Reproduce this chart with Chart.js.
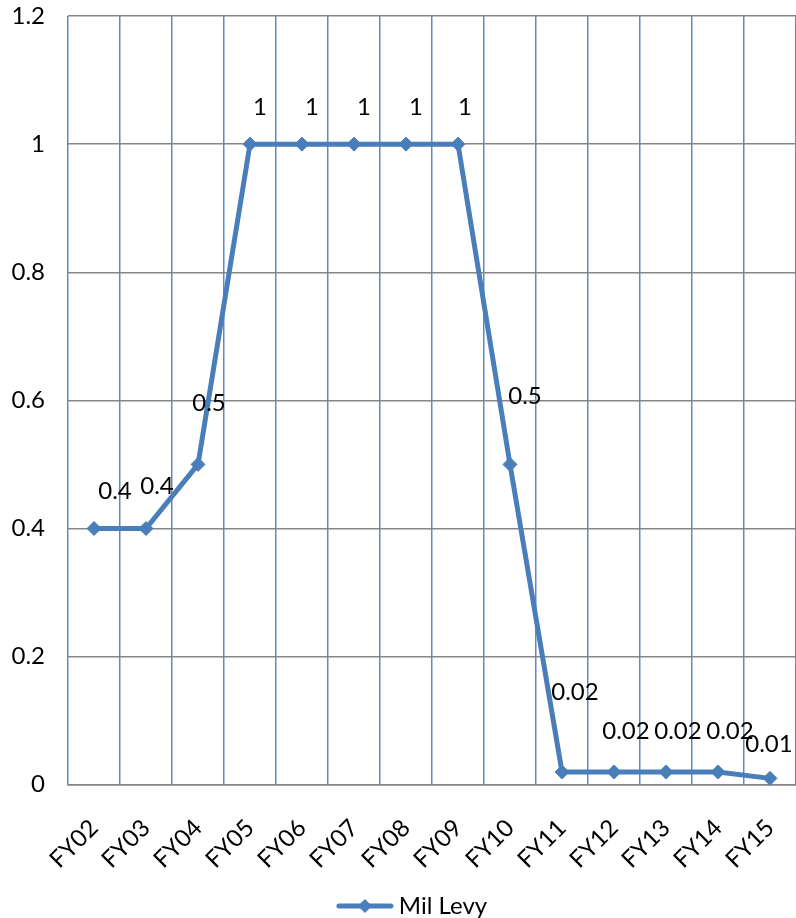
<!DOCTYPE html>
<html>
<head>
<meta charset="utf-8">
<script src="https://cdn.jsdelivr.net/npm/chart.js@4"></script>
<style>
  html, body { margin: 0; padding: 0; background: #fff; }
  #wrap { width: 796px; height: 918px; }
</style>
</head>
<body>
<div id="wrap"><canvas id="levyChart"></canvas></div>
<script>
// data
const years = ['FY02', 'FY03', 'FY04', 'FY05', 'FY06', 'FY07', 'FY08', 'FY09', 'FY10', 'FY11', 'FY12', 'FY13', 'FY14', 'FY15'];
const milLevy = [0.4, 0.4, 0.5, 1, 1, 1, 1, 1, 0.5, 0.02, 0.02, 0.02, 0.02, 0.01];
const valueLabels = ['0.4', '0.4', '0.5', '1', '1', '1', '1', '1', '0.5', '0.02', '0.02', '0.02', '0.02', '0.01'];
const yTicks = [0, 0.2, 0.4, 0.6, 0.8, 1, 1.2];

// label nudges (px) so the value text sits where the original put it
const labelNudge = [[21, -37], [11, -42], [11, -61], [10, -37], [10, -37], [10, -37], [10, -37], [7, -37],
  [15, -68], [13, -80], [12, -41], [12, -41], [12, -41], [-1, -34]];

const BLUE = '#4a7ebb';
const FONT = 'Lato, "Open Sans", sans-serif';
const FSIZE = 24;

// legend sample: line with a diamond in the middle
function legendMarker() {
  const c = document.createElement('canvas');
  c.width = 58; c.height = 16;
  const g = c.getContext('2d');
  g.strokeStyle = BLUE; g.lineWidth = 5; g.lineCap = 'round';
  g.beginPath(); g.moveTo(3, 8); g.lineTo(55, 8); g.stroke();
  g.fillStyle = BLUE;
  g.beginPath(); g.moveTo(29, 1); g.lineTo(36, 8); g.lineTo(29, 15); g.lineTo(22, 8); g.closePath(); g.fill();
  return c;
}

const valueLabelPlugin = {
  id: 'valueLabels',
  afterDatasetsDraw(chart) {
    const ctx = chart.ctx;
    const meta = chart.getDatasetMeta(0);
    ctx.save();
    ctx.font = FSIZE + 'px ' + FONT;
    ctx.fillStyle = '#000';
    ctx.textAlign = 'center';
    ctx.textBaseline = 'middle';
    meta.data.forEach((pt, i) => {
      ctx.fillText(valueLabels[i], pt.x + labelNudge[i][0], pt.y + labelNudge[i][1]);
    });
    ctx.restore();
  }
};

// nudge the legend a bit lower and to the right, like the original
const legendShift = {
  id: 'legendShift',
  afterLayout(chart) {
    const lg = chart.legend;
    lg.top += 10; lg.bottom += 10;
    lg.left += 17; lg.right += 17;
  }
};

const ctx = document.getElementById('levyChart').getContext('2d');
new Chart(ctx, {
  type: 'line',
  data: {
    labels: years,
    datasets: [{
      label: 'Mil Levy',
      data: milLevy,
      borderColor: BLUE,
      backgroundColor: BLUE,
      borderWidth: 5,
      pointStyle: 'rectRot',
      pointRadius: 7,
      pointBorderWidth: 1,
      tension: 0,
      fill: false,
      clip: false
    }]
  },
  options: {
    responsive: true,
    maintainAspectRatio: false,
    animation: false,
    layout: { padding: 0, autoPadding: false },
    plugins: {
      tooltip: { enabled: false },
      legend: {
        position: 'bottom',
        labels: {
          usePointStyle: true,
          pointStyle: legendMarker(),
          pointStyleWidth: 44,
          boxHeight: 16,
          color: '#000',
          font: { family: FONT, size: FSIZE, lineHeight: 1 },
          padding: 0
        }
      }
    },
    scales: {
      x: {
        offset: true,
        afterFit: (axis) => { axis.height += 6; },
        grid: { offset: true, color: '#5a8ac8', lineWidth: 1.5, drawTicks: true, tickLength: 25, tickColor: 'rgba(0,0,0,0)' },
        border: { display: true, color: '#868686', width: 1.5 },
        ticks: {
          color: '#000',
          font: { family: FONT, size: FSIZE },
          maxRotation: 45, minRotation: 45,
          autoSkip: false,
          padding: 4
        }
      },
      y: {
        min: 0, max: 1.2,
        afterBuildTicks: (axis) => { axis.ticks = yTicks.map(v => ({ value: v })); },
        afterFit: (axis) => { axis.width = 68; axis.paddingTop = 16; axis.paddingBottom = 0; },
        grid: { color: '#868686', lineWidth: 1.5, drawTicks: false },
        border: { display: false },
        ticks: {
          color: '#000',
          font: { family: FONT, size: FSIZE },
          padding: 23,
          callback: (v) => String(Math.round(v * 10) / 10)
        }
      }
    }
  },
  plugins: [valueLabelPlugin, legendShift]
});
</script>
</body>
</html>
